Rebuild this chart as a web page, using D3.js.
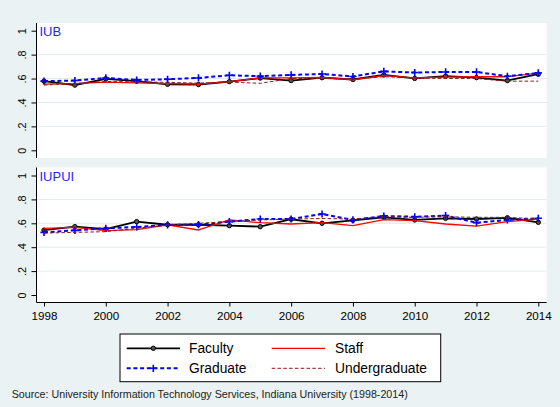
<!DOCTYPE html>
<html>
<head>
<meta charset="utf-8">
<script src="https://cdn.jsdelivr.net/npm/d3@7"></script>
<style>
  html, body { margin: 0; padding: 0; background: #eaf2f3; }
  svg { display: block; font-family: "Liberation Sans", Arial, Helvetica, sans-serif; }
</style>
</head>
<body>
<svg id="chart" width="560" height="407"></svg>
<script>
// Share of users per year, by campus and status
const years = [1998, 1999, 2000, 2001, 2002, 2003, 2004, 2005, 2006, 2007, 2008, 2009, 2010, 2011, 2012, 2013, 2014];

const iubFaculty   = [0.578, 0.545, 0.598, 0.578, 0.552, 0.550, 0.574, 0.604, 0.583, 0.607, 0.592, 0.630, 0.601, 0.620, 0.608, 0.583, 0.636];
const iubStaff     = [0.553, 0.557, 0.570, 0.563, 0.557, 0.553, 0.575, 0.605, 0.605, 0.610, 0.590, 0.625, 0.605, 0.612, 0.615, 0.615, 0.645];
const iubGraduate  = [0.578, 0.583, 0.605, 0.588, 0.594, 0.605, 0.627, 0.620, 0.630, 0.638, 0.617, 0.660, 0.650, 0.655, 0.655, 0.619, 0.647];
const iubUndergrad = [0.545, 0.560, 0.575, 0.572, 0.568, 0.562, 0.570, 0.560, 0.600, 0.600, 0.595, 0.615, 0.605, 0.600, 0.600, 0.578, 0.578];

const iupuiFaculty   = [0.543, 0.572, 0.551, 0.614, 0.588, 0.588, 0.580, 0.572, 0.634, 0.600, 0.625, 0.650, 0.628, 0.642, 0.636, 0.646, 0.608];
const iupuiStaff     = [0.558, 0.566, 0.538, 0.547, 0.586, 0.544, 0.628, 0.605, 0.594, 0.605, 0.580, 0.630, 0.622, 0.594, 0.577, 0.614, 0.636];
const iupuiGraduate  = [0.524, 0.541, 0.558, 0.569, 0.586, 0.589, 0.614, 0.636, 0.636, 0.678, 0.628, 0.661, 0.655, 0.664, 0.605, 0.628, 0.642];
const iupuiUndergrad = [0.518, 0.524, 0.530, 0.558, 0.586, 0.600, 0.614, 0.628, 0.636, 0.640, 0.636, 0.655, 0.650, 0.655, 0.650, 0.650, 0.636];

const panelTitles = ["IUB", "IUPUI"];
const seriesNames = ["Faculty", "Staff", "Graduate", "Undergraduate"];
const yTickValues = [0, 0.2, 0.4, 0.6, 0.8, 1];
const yTickLabels = ["0", ".2", ".4", ".6", ".8", "1"];
const xTickValues = [1998, 2000, 2002, 2004, 2006, 2008, 2010, 2012, 2014];
const sourceNote = "Source: University Information Technology Services, Indiana University (1998-2014)";

// Line styles per series
const styles = [
  { color: "#000000", width: 1.8, dash: null, marker: "circle" },
  { color: "#ff0000", width: 1.3, dash: null, marker: null },
  { color: "#0000ff", width: 2.0, dash: "4,2.7", marker: "plus" },
  { color: "#8b1a1a", width: 1.0, dash: "3.5,2.3", marker: null }
];

const panels = [
  { title: panelTitles[0], series: [iubFaculty, iubStaff, iubGraduate, iubUndergrad],
    top: 23, bottom: 158, y0: 150.3, y1: 30.7, xAxis: false },
  { title: panelTitles[1], series: [iupuiFaculty, iupuiStaff, iupuiGraduate, iupuiUndergrad],
    top: 167.5, bottom: 302.5, y0: 295, y1: 175.5, xAxis: true }
];

const svg = d3.select("#chart");
const plotLeft = 36.5, plotRight = 546.7;

svg.append("rect").attr("x", 0).attr("y", 0).attr("width", 560).attr("height", 407).attr("fill", "#eaf2f3");

const x = d3.scaleLinear().domain([1998, 2014]).range([44, 538.3]);

function drawMarker(g, type, cx, cy, st) {
  if (type === "circle") {
    g.append("circle").attr("cx", cx).attr("cy", cy).attr("r", 2.2)
      .attr("fill", "#555").attr("stroke", st.color).attr("stroke-width", 1);
  } else if (type === "plus") {
    const s = 3.6;
    g.append("path").attr("d", `M${cx - s},${cy}H${cx + s}M${cx},${cy - s}V${cy + s}`)
      .attr("stroke", st.color).attr("stroke-width", 1.6).attr("fill", "none");
  }
}

panels.forEach(p => {
  const y = d3.scaleLinear().domain([0, 1]).range([p.y0, p.y1]);
  const g = svg.append("g");

  // plot region
  g.append("rect").attr("x", plotLeft).attr("y", p.top)
    .attr("width", plotRight - plotLeft).attr("height", p.bottom - p.top).attr("fill", "#ffffff");

  // horizontal gridlines
  g.selectAll(".grid").data(yTickValues.filter(v => v > 0 && v < 1)).join("line")
    .attr("x1", plotLeft).attr("x2", plotRight)
    .attr("y1", d => y(d)).attr("y2", d => y(d))
    .attr("stroke", "#e3ebee").attr("stroke-width", 1);

  // y axis
  const yAxis = d3.axisLeft(y).tickValues(yTickValues)
    .tickFormat((d, i) => yTickLabels[i]).tickSize(5).tickPadding(4);
  const ya = g.append("g").attr("transform", `translate(${plotLeft},0)`).call(yAxis);
  ya.select(".domain").remove();
  ya.selectAll(".tick line").attr("stroke", "#000");
  ya.selectAll(".tick text")
    .attr("font-size", 10.8).attr("fill", "#000")
    .attr("x", null).attr("dy", null)
    .attr("text-anchor", "middle")
    .attr("transform", "translate(-10.5,0) rotate(-90)");
  g.append("line").attr("x1", plotLeft).attr("x2", plotLeft)
    .attr("y1", p.top).attr("y2", p.bottom).attr("stroke", "#000").attr("stroke-width", 1);

  // x axis (bottom panel only)
  if (p.xAxis) {
    const xAxis = d3.axisBottom(x).tickValues(xTickValues).tickFormat(d3.format("d"))
      .tickSize(4).tickPadding(5);
    const xa = g.append("g").attr("transform", `translate(0,${p.bottom})`).call(xAxis);
    xa.select(".domain").remove();
    xa.selectAll(".tick line").attr("stroke", "#000");
    xa.selectAll(".tick text").attr("font-size", 11.6).attr("fill", "#000");
    g.append("line").attr("x1", plotLeft).attr("x2", plotRight)
      .attr("y1", p.bottom).attr("y2", p.bottom).attr("stroke", "#000").attr("stroke-width", 1);
  }

  // series lines
  const line = d3.line().x((d, i) => x(years[i])).y(d => y(d));
  p.series.forEach((vals, k) => {
    const st = styles[k];
    g.append("path").datum(vals).attr("d", line)
      .attr("fill", "none").attr("stroke", st.color).attr("stroke-width", st.width)
      .attr("stroke-dasharray", st.dash).attr("stroke-linejoin", "round");
    if (st.marker) {
      vals.forEach((v, i) => drawMarker(g, st.marker, x(years[i]), y(v), st));
    }
  });

  // panel title
  g.append("text").attr("x", 39.5).attr("y", p.y1 + 5.3).attr("font-size", 13)
    .attr("fill", "#1f1fff").text(p.title);
});

// legend
const lg = svg.append("g");
lg.append("rect").attr("x", 120).attr("y", 334).attr("width", 320.7).attr("height", 47.7)
  .attr("fill", "#fff").attr("stroke", "#000").attr("stroke-width", 1);
const legendPos = [
  { lx: 126.7, tx: 189, y: 348.3 },
  { lx: 271.7, tx: 335, y: 348.3 },
  { lx: 126.7, tx: 189, y: 368.3 },
  { lx: 271.7, tx: 335, y: 368.3 }
];
seriesNames.forEach((name, k) => {
  const st = styles[k], pos = legendPos[k];
  lg.append("line").attr("x1", pos.lx).attr("x2", pos.lx + 53.3)
    .attr("y1", pos.y).attr("y2", pos.y)
    .attr("stroke", st.color).attr("stroke-width", st.width).attr("stroke-dasharray", st.dash);
  if (st.marker) drawMarker(lg, st.marker, pos.lx + 26.6, pos.y, st);
  lg.append("text").attr("x", pos.tx).attr("y", pos.y + 5).attr("font-size", 13.8)
    .attr("fill", "#000").text(name);
});

// source note
svg.append("text").attr("x", 11.7).attr("y", 397.5).attr("font-size", 10.7)
  .attr("fill", "#222").text(sourceNote);
</script>
</body>
</html>
